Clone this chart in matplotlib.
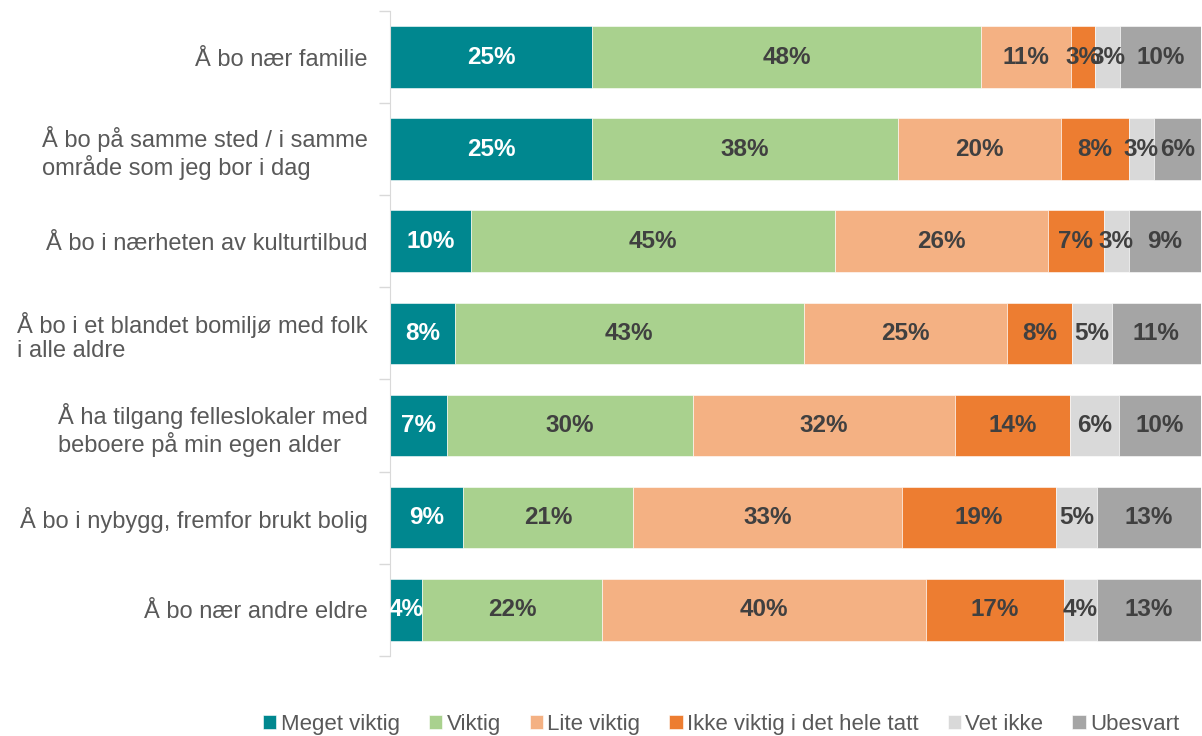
import matplotlib.pyplot as plt
import numpy as np

plt.rcParams['font.family'] = ['Liberation Sans', 'DejaVu Sans']

# Categories (top to bottom)
categories = [
    "Å bo nær familie",
    "Å bo på samme sted / i samme\nområde som jeg bor i dag",
    "Å bo i nærheten av kulturtilbud",
    "Å bo i et blandet bomiljø med folk\ni alle aldre",
    "Å ha tilgang felleslokaler med\nbeboere på min egen alder",
    "Å bo i nybygg, fremfor brukt bolig",
    "Å bo nær andre eldre",
]

series_names = ["Meget viktig", "Viktig", "Lite viktig",
                "Ikke viktig i det hele tatt", "Vet ikke", "Ubesvart"]

meget_viktig = [24.9, 24.9, 10.0, 8.0, 7.0, 9.0, 4.0]
viktig = [48.0, 37.8, 44.9, 43.0, 30.4, 21.0, 22.1]
lite_viktig = [11.1, 20.0, 26.2, 25.1, 32.3, 33.1, 40.0]
ikke_viktig = [3.0, 8.4, 6.9, 8.0, 14.2, 19.0, 17.0]
vet_ikke = [3.0, 3.1, 3.1, 4.9, 6.0, 5.1, 4.1]
ubesvart = [10.0, 5.8, 8.9, 11.0, 10.1, 12.8, 12.8]

series = [meget_viktig, viktig, lite_viktig, ikke_viktig, vet_ikke, ubesvart]
colors = ["#00878F", "#A9D18E", "#F4B183", "#ED7D31", "#D9D9D9", "#A5A5A5"]
text_colors = ["white", "#404040", "#404040", "#404040", "#404040", "#404040"]

fig = plt.figure(figsize=(12.02, 7.36), dpi=100)
ax = fig.add_axes([0.3245, 0.109, 0.6745, 0.876])

y = np.arange(len(categories))
left = np.zeros(len(categories))
for vals, name, col, tcol in zip(series, series_names, colors, text_colors):
    vals = np.array(vals)
    ax.barh(y, vals, left=left, height=0.67, color=col, label=name,
            edgecolor="white", linewidth=0.4)
    for yi, (l, v) in enumerate(zip(left, vals)):
        ax.text(l + v / 2, yi, f"{round(v)}%", ha="center", va="center",
                fontsize=17.5, fontweight="bold", color=tcol)
    left += vals

ax.set_xlim(0, 100)
ax.set_ylim(len(categories) - 0.5, -0.5)
ax.set_xticks([])
ax.set_yticks(np.arange(-0.5, len(categories), 1), minor=False)
ax.set_yticklabels([])
ax.set_yticks(y, minor=True)
ax.set_yticklabels(categories, minor=True, fontsize=17, color="#595959",
                   linespacing=1.15, multialignment="left")
ax.tick_params(axis="y", which="major", length=8, color="#D9D9D9", width=1)
ax.tick_params(axis="y", which="minor", length=0, pad=16)

for s in ["top", "right", "bottom"]:
    ax.spines[s].set_visible(False)
ax.spines["left"].set_color("#D9D9D9")

fig.legend(loc="center", bbox_to_anchor=(0.6, 0.016), ncol=6, frameon=False,
           fontsize=16, handlelength=0.6, handleheight=0.6,
           handletextpad=0.2, columnspacing=1.3, labelcolor="#595959")

fig.savefig("out.png", dpi=100)
